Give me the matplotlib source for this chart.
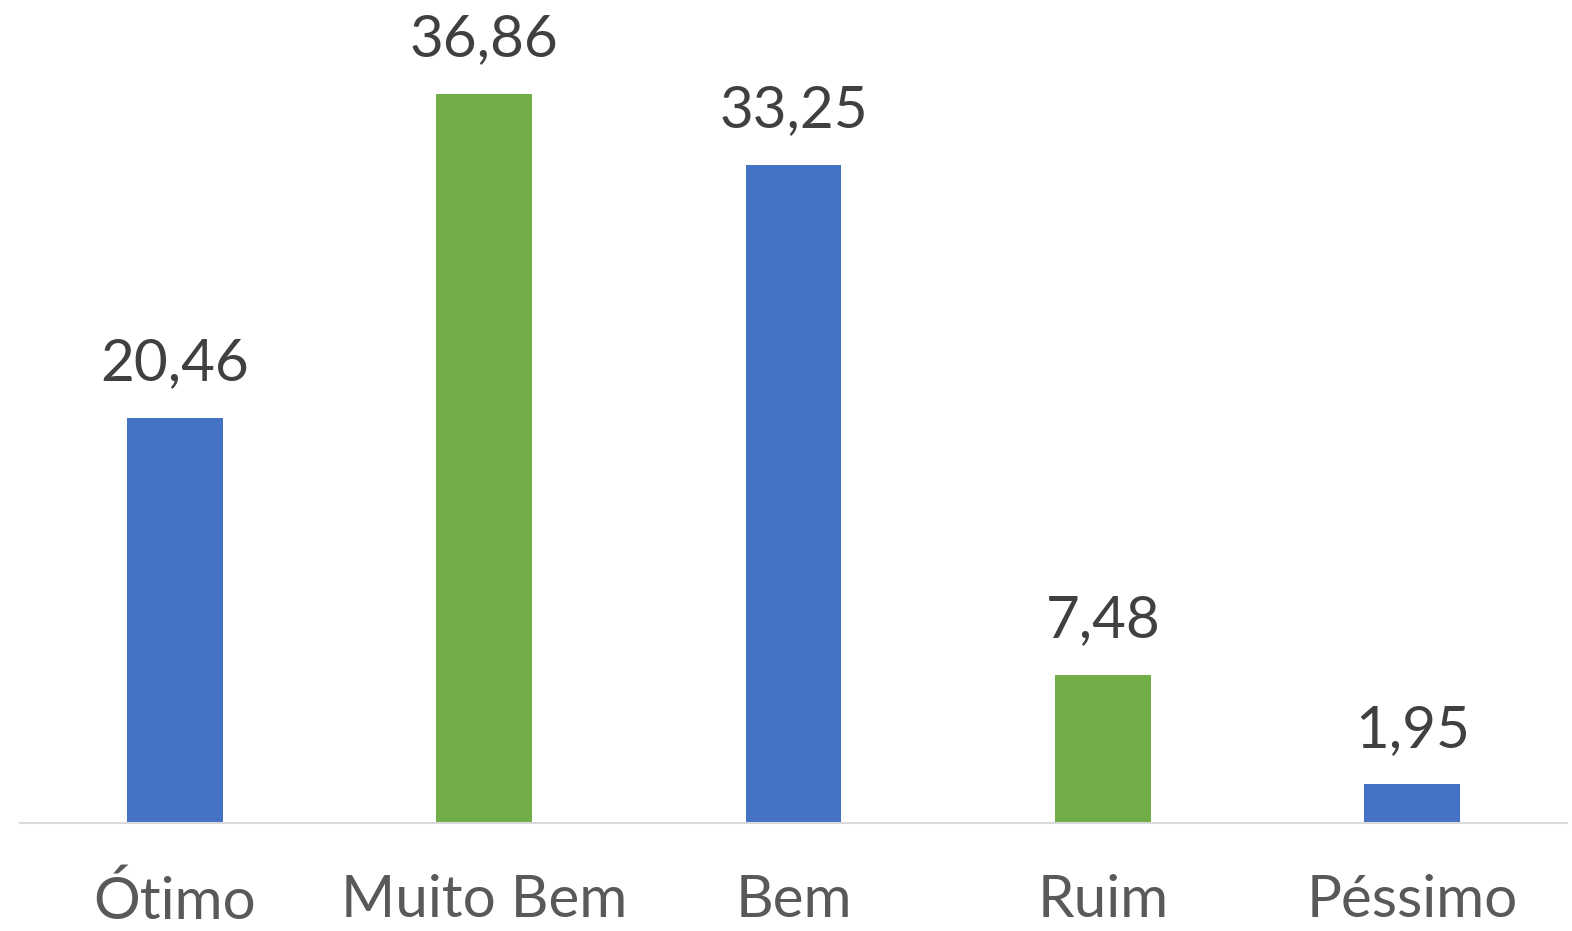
import matplotlib.pyplot as plt

categorias = ['Ótimo', 'Muito Bem', 'Bem', 'Ruim', 'Péssimo']
valores = [20.46, 36.86, 33.25, 7.48, 1.95]
rotulos = ['20,46', '36,86', '33,25', '7,48', '1,95']
cores = ['#4472C4', '#70AD47', '#4472C4', '#70AD47', '#4472C4']

plt.rcParams['font.family'] = ['Lato', 'DejaVu Sans']

fig = plt.figure(figsize=(15.72, 9.31), dpi=100)
ax = fig.add_axes([20/1572, 1 - 823/931, 1547/1572, 823/931])

x = range(len(categorias))
ax.bar(x, valores, width=0.31, color=cores)

for i, v in enumerate(valores):
    ax.annotate(rotulos[i], (i, v), xytext=(0, 20), textcoords='offset points',
                ha='center', va='bottom', fontsize=42, color='#404040')

ax.set_xlim(-0.5, 4.5)
ax.set_ylim(0, 41.6)
ax.set_xticks(list(x))
ax.set_xticklabels(categorias, fontsize=42, color='#595959')
ax.tick_params(axis='x', length=0, pad=37)
ax.set_yticks([])
for s in ['top', 'right', 'left']:
    ax.spines[s].set_visible(False)
ax.spines['bottom'].set_color('#D9D9D9')
ax.spines['bottom'].set_linewidth(1.5)

fig.savefig('out.png', dpi=100)
